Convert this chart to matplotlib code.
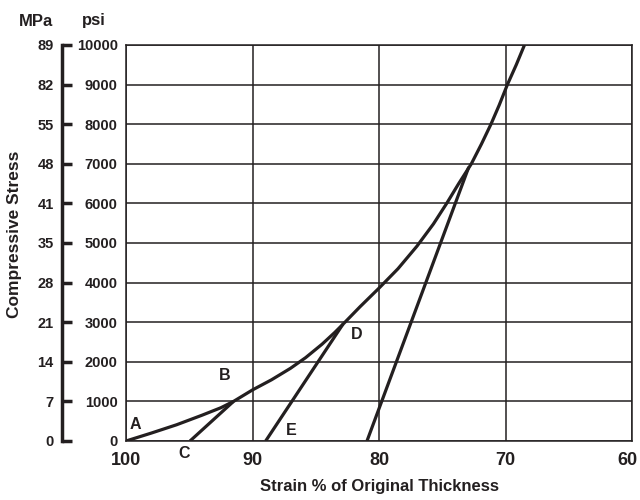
import matplotlib
matplotlib.use("Agg")
import matplotlib.pyplot as plt
from matplotlib.transforms import ScaledTranslation

plt.rcParams['font.family'] = ['Liberation Sans', 'DejaVu Sans']
plt.rcParams['font.weight'] = 'bold'

ink = '#231f20'

# main stress-strain curve (strain %, psi)
curve_strain = [100, 98, 96, 94, 92.5, 91.5, 90, 88.5, 87, 85.8, 84.5, 83.5, 82.75, 81.5,
                80, 78.5, 77, 75.7, 74.65, 73.7, 72.7, 71.9, 71.15, 70.5, 69.85, 69.15, 68.5]
curve_psi = [0, 200, 410, 650, 840, 1000, 1290, 1545, 1835, 2105, 2445, 2740, 2980, 3390,
             3860, 4350, 4920, 5480, 6000, 6500, 7000, 7500, 8000, 8480, 9000, 9500, 10000]

# recovery lines
line_c_strain = [94.94, 91.5]
line_c_psi = [0, 1000]
line_e_strain = [88.96, 82.85]
line_e_psi = [0, 2950]
line_f_strain = [80.95, 72.9]
line_f_psi = [0, 6920]

psi_ticks = [0, 1000, 2000, 3000, 4000, 5000, 6000, 7000, 8000, 9000, 10000]
mpa_labels = ['0', '7', '14', '21', '28', '35', '41', '48', '55', '82', '89']
strain_ticks = [100, 90, 80, 70, 60]

point_labels = ['A', 'B', 'C', 'D', 'E']
point_strain = [99.3, 92.2, 95.4, 81.8, 86.9]
point_psi = [420, 1660, -320, 2700, 270]

fig = plt.figure(figsize=(6.4, 5), dpi=100)
ax = fig.add_axes([126 / 640, 59 / 500, 506 / 640, 396 / 500])

for xs, ys in [(curve_strain, curve_psi), (line_c_strain, line_c_psi),
               (line_e_strain, line_e_psi), (line_f_strain, line_f_psi)]:
    ax.plot(xs, ys, color=ink, lw=2.3, solid_capstyle='butt', solid_joinstyle='round')

for lab, sx, sy in zip(point_labels, point_strain, point_psi):
    ax.text(sx, sy, lab, fontsize=11.5, fontweight='bold', color=ink,
            ha='center', va='center', clip_on=False)

ax.set_xlim(100, 60)
ax.set_ylim(0, 10000)
ax.set_xticks(strain_ticks)
ax.set_xticklabels([str(t) for t in strain_ticks], fontsize=13, fontweight='bold', color=ink)
ax.set_yticks(psi_ticks)
ax.set_yticklabels([str(t) for t in psi_ticks], fontsize=10.5, fontweight='bold', color=ink)
ax.tick_params(axis='both', length=0)
ax.tick_params(axis='x', pad=8)
ax.tick_params(axis='y', pad=6)
ax.grid(True, color=ink, lw=1.1)
for s in ax.spines.values():
    s.set_color(ink)
    s.set_linewidth(1.1)

# keep the last x label ("60") inside the figure
last = ax.get_xticklabels()[-1]
last.set_transform(last.get_transform() + ScaledTranslation(-0.05, 0, fig.dpi_scale_trans))

sec = ax.secondary_yaxis(-0.1265)
sec.set_yticks(psi_ticks)
sec.set_yticklabels(mpa_labels, fontsize=10.5, fontweight='bold', color=ink)
sec.tick_params(direction='in', length=7, width=2.5, color=ink, pad=6)
sec.spines['left'].set_linewidth(2.5)
sec.spines['left'].set_color(ink)

ax.set_xlabel('Strain % of Original Thickness', fontsize=12, fontweight='bold', color=ink, labelpad=7)
fig.text(14.5 / 640, 1 - 234 / 500, 'Compressive Stress', rotation=90, fontsize=12.5,
         fontweight='bold', color=ink, ha='center', va='center')
fig.text(35.5 / 640, 1 - 21 / 500, 'MPa', fontsize=12, fontweight='bold', color=ink, ha='center', va='center')
fig.text(93.5 / 640, 1 - 21 / 500, 'psi', fontsize=12, fontweight='bold', color=ink, ha='center', va='center')

fig.savefig('out.png', dpi=100)
